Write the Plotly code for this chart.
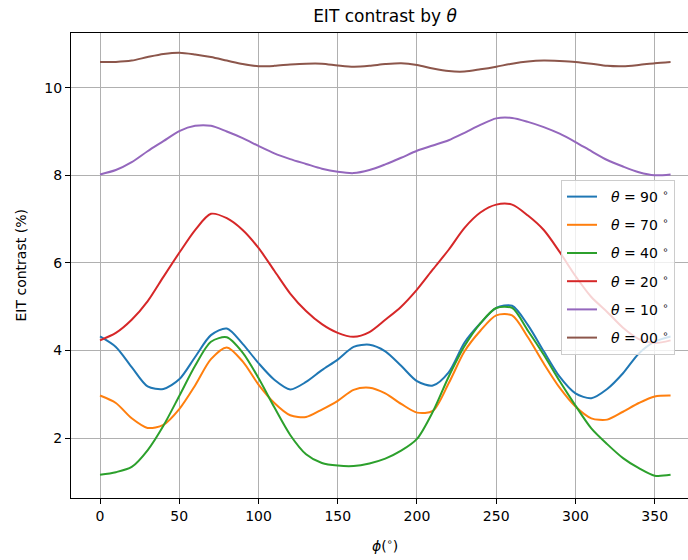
import plotly.graph_objects as go

phi = [0, 10, 20, 30, 40, 50, 60, 70, 80, 90, 100, 110, 120, 130, 140, 150, 160, 170, 180,
       190, 200, 210, 220, 230, 240, 250, 260, 270, 280, 290, 300, 310, 320, 330, 340, 350, 360]

theta_labels = ["90", "70", "40", "20", "10", "00"]

c_90 = [4.32, 4.08, 3.62, 3.18, 3.12, 3.34, 3.85, 4.35, 4.50, 4.15, 3.71, 3.33, 3.11, 3.28, 3.55,
        3.79, 4.08, 4.13, 3.98, 3.65, 3.30, 3.20, 3.50, 4.18, 4.62, 4.97, 5.02, 4.58, 3.98, 3.40,
        3.02, 2.91, 3.12, 3.48, 3.93, 4.20, 4.32]
c_70 = [2.97, 2.80, 2.45, 2.23, 2.30, 2.66, 3.20, 3.80, 4.07, 3.75, 3.22, 2.80, 2.52, 2.48, 2.65,
        2.85, 3.10, 3.15, 3.02, 2.78, 2.58, 2.62, 3.25, 3.98, 4.45, 4.80, 4.80, 4.30, 3.70, 3.15,
        2.72, 2.45, 2.42, 2.60, 2.80, 2.95, 2.97]
c_40 = [1.16, 1.22, 1.34, 1.72, 2.28, 2.96, 3.65, 4.20, 4.30, 3.95, 3.37, 2.70, 2.07, 1.63, 1.43,
        1.37, 1.36, 1.42, 1.53, 1.71, 1.98, 2.60, 3.40, 4.10, 4.62, 4.97, 4.97, 4.45, 3.90, 3.30,
        2.74, 2.22, 1.86, 1.54, 1.31, 1.14, 1.16]
c_20 = [4.23, 4.40, 4.70, 5.12, 5.68, 6.23, 6.75, 7.12, 7.02, 6.75, 6.34, 5.82, 5.30, 4.90, 4.60,
        4.40, 4.31, 4.42, 4.70, 5.00, 5.39, 5.85, 6.30, 6.80, 7.15, 7.33, 7.33, 7.08, 6.75, 6.25,
        5.70, 5.22, 4.88, 4.52, 4.26, 4.17, 4.23]
c_10 = [8.02, 8.12, 8.30, 8.55, 8.78, 9.01, 9.13, 9.13, 9.00, 8.85, 8.67, 8.50, 8.37, 8.26, 8.15,
        8.08, 8.05, 8.12, 8.25, 8.40, 8.56, 8.68, 8.80, 8.97, 9.15, 9.30, 9.31, 9.22, 9.10, 8.95,
        8.76, 8.55, 8.35, 8.20, 8.07, 8.00, 8.02]
c_00 = [10.59, 10.59, 10.62, 10.70, 10.77, 10.80, 10.76, 10.70, 10.62, 10.54, 10.49, 10.50, 10.53,
        10.55, 10.55, 10.51, 10.48, 10.50, 10.54, 10.56, 10.52, 10.44, 10.38, 10.37, 10.42, 10.48,
        10.55, 10.60, 10.62, 10.61, 10.59, 10.55, 10.50, 10.49, 10.52, 10.56, 10.59]

series = [c_90, c_70, c_40, c_20, c_10, c_00]
colors = ["#1f77b4", "#ff7f0e", "#2ca02c", "#d62728", "#9467bd", "#8c564b"]

W, H = 688, 560
L, R, T, B = 71, 0, 33, 62
FONT = "DejaVu Sans"
NB = "\u00a0"

fig = go.Figure()
for i, (lab, ys, col) in enumerate(zip(theta_labels, series, colors)):
    fig.add_trace(go.Scatter(
        x=phi, y=ys, mode="lines",
        name=f"{NB}{NB}<i>θ</i>{NB}={NB}{lab}{NB}<sup>∘</sup>",
        legendgroup=f"g{i}",
        line=dict(color=col, width=2, shape="spline", smoothing=0.8),
    ))

axis_common = dict(
    showgrid=True, gridcolor="#b0b0b0", gridwidth=1,
    showline=True, linecolor="black", linewidth=1,
    ticks="outside", ticklen=5, tickwidth=1, tickcolor="black",
    tickfont=dict(family=FONT, size=14, color="black"),
    zeroline=False,
)

fig.update_xaxes(range=[-18.3, 371.0], tickvals=[0, 50, 100, 150, 200, 250, 300, 350],
                 mirror=True, **axis_common)
fig.update_yaxes(range=[0.63, 11.25], tickvals=[2, 4, 6, 8, 10], **axis_common)

fig.update_layout(
    width=W, height=H,
    margin=dict(l=L, r=R, t=T, b=B, pad=0),
    plot_bgcolor="white", paper_bgcolor="white",
    font=dict(family=FONT, size=14, color="black"),
    title=dict(text="EIT contrast by <i>θ</i>", x=385 / W, xref="container", xanchor="center",
               y=1 - 16 / H, yref="container", yanchor="middle",
               font=dict(family=FONT, size=17, color="black")),
    showlegend=True,
    legend=dict(x=(561 - L) / (W - L - R), y=(H - B - 180) / (H - T - B), xanchor="left", yanchor="top",
                bgcolor="rgba(255,255,255,0.8)", bordercolor="#cccccc", borderwidth=1,
                tracegroupgap=7,
                font=dict(family=FONT, size=14, color="black"), itemwidth=30),
    annotations=[
        dict(text="<i>ϕ</i>(<sup>∘</sup>)", xref="paper", yref="paper",
             x=(385 - L) / (W - L - R), y=-(545 - (H - B)) / (H - T - B), xanchor="center", yanchor="middle",
             showarrow=False, font=dict(family=FONT, size=14, color="black")),
        dict(text="EIT contrast (%)", xref="paper", yref="paper", textangle=-90,
             x=-(L - 20) / (W - L - R), y=0.5, xanchor="center", yanchor="middle",
             showarrow=False, font=dict(family=FONT, size=14, color="black")),
    ],
)

fig.write_html("out.html")
